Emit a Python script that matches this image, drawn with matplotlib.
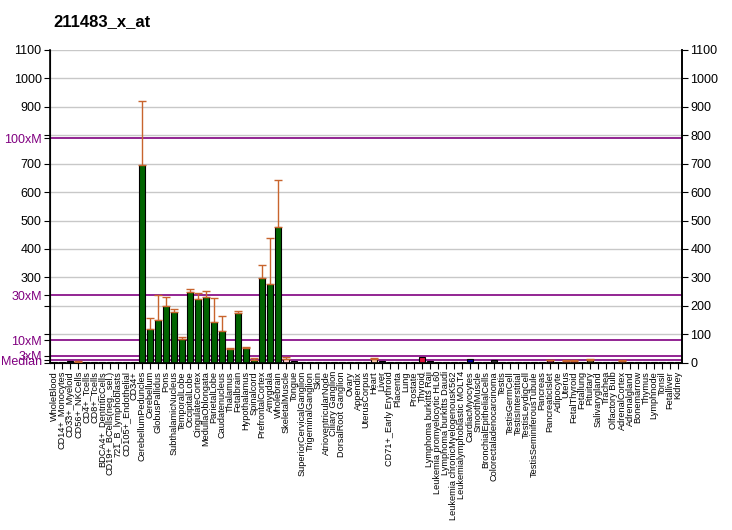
import matplotlib.pyplot as plt
import numpy as np

plt.rcParams['font.family'] = ['Liberation Sans', 'DejaVu Sans']

title = '211483_x_at'

samples = [
    'WholeBlood', 'CD14+_Monocytes', 'CD33+_Myeloid', 'CD56+_NKCells', 'CD4+_Tcells',
    'CD8+_Tcells', 'BDCA4+_DentriticCells', 'CD19+_BCells(neg._sel.)', '721_B_lymphoblasts',
    'CD105+_Endothelial', 'CD34+', 'CerebellumPeduncles', 'Cerebellum', 'GlobusPallidus',
    'Pons', 'SubthalamicNucleus', 'TemporalLobe', 'OccipitalLobe', 'CingulateCortex',
    'MedullaOblongata', 'ParietalLobe', 'Caudatenucleus', 'Thalamus', 'Fetalbrain',
    'Hypothalamus', 'Spinalcord', 'PrefrontalCortex', 'Amygdala', 'Wholebrain',
    'SkeletalMuscle', 'Tongue', 'SuperiorCervicalGanglion', 'TrigeminalGanglion', 'Skin',
    'AtrioventricularNode', 'Ciliary Ganglion', 'DorsalRoot Ganglion', 'Ovary', 'Appendix',
    'UterusCorpus', 'Heart', 'Liver', 'CD71+_Early Erythroid', 'Placenta', 'Lung',
    'Prostate', 'Thyroid', 'Lymphoma burkitts Raji', 'Leukemia promyelocytic HL60',
    'Lymphoma burkitts Daudi', 'Leukemia chronicMyelogenousK562',
    'Leukemialymphoblastic MOLT4', 'CardiacMyocytes', 'SmoothMuscle',
    'BronchialEpithelialCells', 'Colorectaladenocarcinoma', 'Testis', 'TestisGermCell',
    'TestisInterstitial', 'TestisLeydigCell', 'TestisSeminiferousTubule', 'Pancreas',
    'PancreaticIslet', 'Adipocyte', 'Uterus', 'FetalThyroid', 'Fetallung', 'Pituitary',
    'Salivarygland', 'Trachea', 'Olfactory Bulb', 'AdrenalCortex', 'Adrenalgland',
    'Bonemarrow', 'Thymus', 'Lymphnode', 'Tonsil', 'Fetalliver', 'Kidney',
]

values = [
    3, 3, 5, 3, 3, 3, 3, 3, 3, 3, 3,
    694, 118, 150, 198, 177, 82, 248, 223, 232, 142, 110, 47, 174, 50, 8, 297, 276, 476,
    12, 7, 3, 3, 3, 3, 3, 3, 3, 4, 4, 12, 7, 3, 3, 3, 3, 21, 7, 3, 3, 3, 3, 13, 4, 3, 9,
    3, 3, 3, 3, 3, 3, 8, 3, 6, 6, 3, 9, 3, 3, 3, 6, 3, 3, 3, 3, 3, 3, 3,
]

errors = [
    0, 0, 0, 2, 0, 0, 0, 0, 0, 0, 0,
    228, 38, 87, 32, 11, 7, 10, 21, 19, 84, 53, 3, 7, 4, 7, 45, 161, 165,
    7, 0, 0, 0, 0, 0, 0, 0, 0, 0, 0, 6, 0, 0, 0, 0, 0, 0, 0, 0, 0, 0, 0, 0, 0, 0, 0,
    0, 0, 0, 0, 0, 0, 3, 0, 2, 2, 0, 3, 0, 0, 0, 2, 0, 0, 0, 0, 0, 0, 0,
]

colors = (
    ['#00CCFF', '#00CCFF', '#000066'] + ['#00CCFF'] * 8
    + ['#006400'] * 18
    + ['#FFCCCC', '#FFCCCC'] + ['#4B0040'] * 7
    + ['#9933CC', '#CC0033', '#FFCCAA', '#333366', '#99CC33', '#FF6633', '#CC3366',
       '#9966CC', '#DC143C', '#333366', '#00CCFF', '#00CCFF', '#00CCFF', '#00CCFF',
       '#000099', '#330066', '#336699', '#333333']
    + ['#CC6600'] * 5
    + ['#996633', '#993366', '#66CCCC', '#CC3333', '#990066', '#9900CC', '#666633',
       '#FF6600', '#9933FF', '#CC0066', '#FF9999', '#CC9999', '#66CC99', '#9999CC',
       '#6666CC', '#993399', '#669966', '#CC6699']
)

median = 7.9
ref_lines = [median * 100, median * 30, median * 10, median * 3, median]
ref_names = ['100xM', '30xM', '10xM', '3xM', 'Median']

fig = plt.figure(figsize=(7.32, 5.30), dpi=100)
ax = fig.add_axes([50 / 732, 167.3 / 530, 632 / 732, 312.7 / 530])

x = np.arange(len(samples))
for yv in range(100, 1101, 100):
    ax.axhline(yv, color='#C8C8C8', lw=1, zorder=0)
for yv in ref_lines:
    ax.axhline(yv, color='#800080', lw=1.2, zorder=1)

ax.bar(x, values, width=0.8, color=colors, edgecolor='black', linewidth=0.8, zorder=2)
err = np.array(errors)
mask = err > 0
ax.errorbar(x[mask], np.array(values)[mask], yerr=[np.zeros(mask.sum()), err[mask]],
            fmt='none', ecolor='#C8642D', elinewidth=1, capsize=3, capthick=1, zorder=3)

ax.set_xlim(-0.5, len(samples) - 0.5)
ax.set_ylim(0, 1100)
ax.set_xticks(x)
ax.set_xticklabels(samples, rotation=90, fontsize=6.6)
ax.tick_params(axis='x', length=4, pad=2)

left_ticks = list(range(0, 1101, 100)) + ref_lines
left_labels = ['', '', '', '300', '400', '500', '600', '700', '', '900', '1000', '1100'] + ref_names
ax.set_yticks(left_ticks)
ax.set_yticklabels(left_labels, fontsize=9)
for lab in ax.get_yticklabels()[12:]:
    lab.set_color('#800080')
ax.tick_params(axis='y', length=4, pad=2)

ax.spines['top'].set_visible(False)
for s in ['left', 'right', 'bottom']:
    ax.spines[s].set_linewidth(1.2)

ax2 = ax.twinx()
ax2.set_ylim(0, 1100)
ax2.set_yticks(range(0, 1101, 100))
ax2.tick_params(axis='y', labelsize=9, length=4, pad=2)
ax2.spines['top'].set_visible(False)
ax2.spines['right'].set_linewidth(1.2)

fig.text(53 / 732, 1 - 22 / 530, title, fontsize=12, fontweight='bold', va='center', ha='left')

fig.savefig('out.png', dpi=100)
